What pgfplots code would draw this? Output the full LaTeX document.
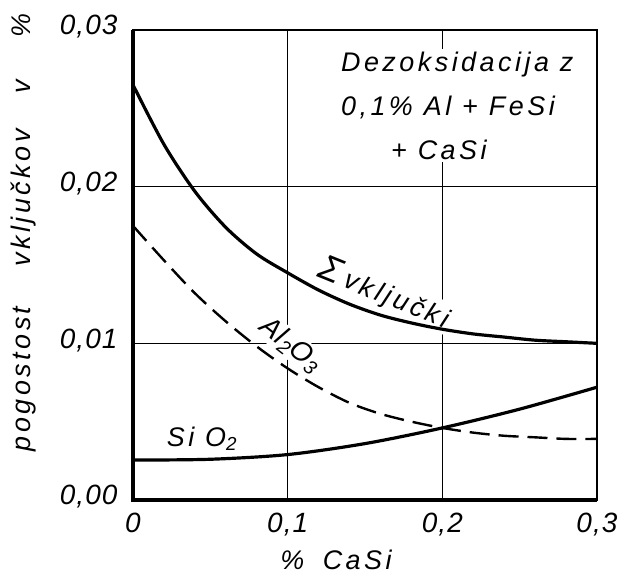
\documentclass[border=0pt]{standalone}
\usepackage{pgfplots}
\pgfplotsset{compat=1.18}
\usepackage{fontspec}
\setmainfont{Liberation Sans}
\newfontfamily\labA[LetterSpace=4]{Liberation Sans}
\newfontfamily\labB[LetterSpace=13]{Liberation Sans}
\newcommand{\tf}{\labA\itshape\fontsize{28}{30}\selectfont}
\newcommand{\lf}{\labB\itshape\fontsize{27}{44}\selectfont}
\begin{document}
\begin{tikzpicture}
\useasboundingbox (-133bp,-84bp) rectangle (484bp,500bp);
\begin{axis}[
  anchor=south west, at={(0,0)},
  scale only axis, width=464bp, height=470bp,
  xmin=0, xmax=0.3, ymin=0, ymax=0.03,
  xtick={0,0.1,0.2,0.3}, xticklabels={0,{0,1},{0,2},{0,3}},
  ytick={0,0.01,0.02,0.03}, yticklabels={{0,00},{0,01},{0,02},{0,03}},
  scaled y ticks=false, scaled x ticks=false,
  grid=major, grid style={black, line width=1.3pt},
  major tick length=0pt,
  axis line style={line width=2.2pt},
  tick label style={font=\tf},
  xticklabel style={yshift=-10bp},
  yticklabel style={xshift=-12bp, yshift=3bp},
  clip=false,
]
\draw[line width=3.4pt] (rel axis cs:0,1) -- (rel axis cs:0,0) -- (rel axis cs:1,0);

\node[fill=white, anchor=north west, align=left, inner sep=3pt, font=\lf]
  at (axis cs:0.1325,0.0288) {Dezoksidacija z\\0,1\% Al + FeSi\\\hspace{50bp}+ CaSi};
\node[fill=white, inner sep=1pt, rotate=-22, font=\lf, anchor=base west] at (axis cs:0.118,0.0143) {{\fontsize{36}{36}\selectfont Σ}\hspace{6bp}vključki};
\node[fill=white, inner sep=1pt, rotate=-38, font=\tf] at (axis cs:0.102,0.0099) {Al\textsubscript{2}O\textsubscript{3}};
\node[inner sep=1pt, font=\lf] at (axis cs:0.0446,0.0039) {Si O\textsubscript{2}};

\node[rotate=90, font=\lf] at (axis description cs:-0.235,0.569) {pogostost\hspace{40bp}vključkov\hspace{36bp}v\hspace{42bp}\%};
\node[font=\lf] at (axis description cs:0.4375,-0.128) {\% \;CaSi};

\addplot[black, line width=3.2pt, smooth] coordinates {
(0,0.0265) (0.02,0.0227) (0.04,0.0197) (0.06,0.0174) (0.08,0.0157) (0.10,0.0145)
(0.12,0.0134) (0.14,0.0125) (0.16,0.0118) (0.18,0.0113) (0.20,0.0109) (0.22,0.0106)
(0.24,0.0104) (0.26,0.0102) (0.28,0.0101) (0.30,0.0100)};
\addplot[black, line width=2.4pt, smooth, dash pattern=on 20bp off 9bp] coordinates {
(0,0.0175) (0.02,0.0153) (0.04,0.0132) (0.06,0.0114) (0.08,0.0098) (0.10,0.0084)
(0.12,0.0072) (0.14,0.0062) (0.16,0.0055) (0.18,0.0050) (0.20,0.0046) (0.22,0.0043)
(0.24,0.0041) (0.26,0.0040) (0.28,0.0039) (0.30,0.0039)};
\addplot[black, line width=3.2pt, smooth] coordinates {
(0,0.00255) (0.05,0.0026) (0.10,0.0029) (0.15,0.0036) (0.20,0.0046) (0.25,0.0058) (0.30,0.0072)};
\end{axis}
\end{tikzpicture}
\end{document}
